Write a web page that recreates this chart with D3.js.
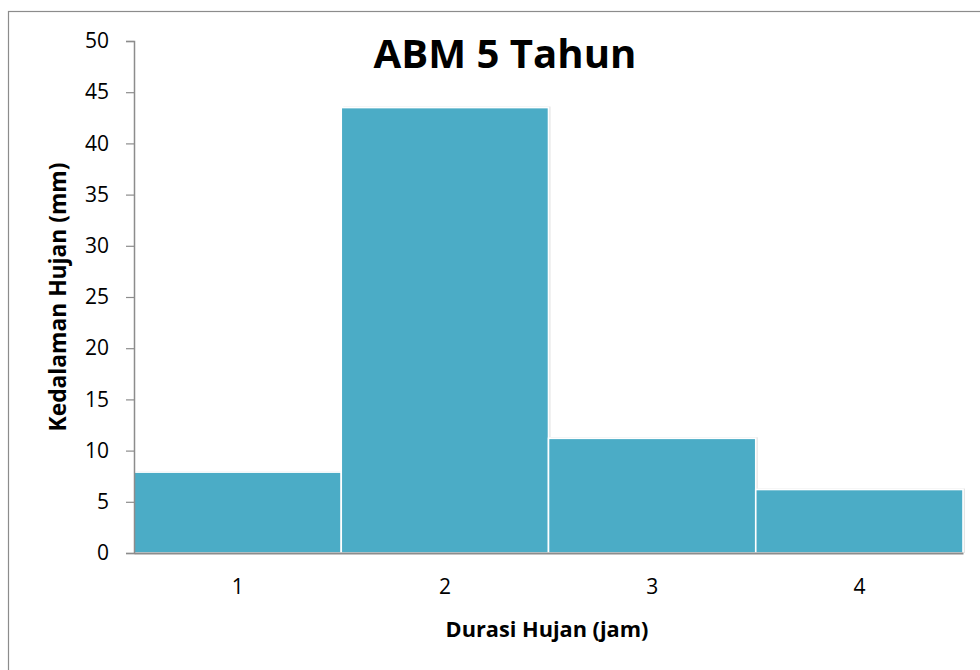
<!DOCTYPE html>
<html><head><meta charset="utf-8">
<script src="https://cdn.jsdelivr.net/npm/d3@7"></script>
<style>body{margin:0;background:#fff}svg{display:block}</style>
</head><body>
<svg id="c" width="980" height="670"></svg>
<script>
const categories = ["1", "2", "3", "4"];
const values = [7.9, 43.5, 11.2, 6.2];
const yTicks = [0, 5, 10, 15, 20, 25, 30, 35, 40, 45, 50];
const title = "ABM 5 Tahun";
const xLabel = "Durasi Hujan (jam)";
const yLabel = "Kedalaman Hujan (mm)";

const font = "'Open Sans', 'Noto Sans', sans-serif";
const svg = d3.select("#c");
const pLeft = 134, pRight = 963, pTop = 41, pBottom = 553;

// outer frame
svg.append("rect").attr("x", 8.5).attr("y", 11.5).attr("width", 1000).attr("height", 700)
  .attr("fill", "#fff").attr("stroke", "#8c8c8c").attr("stroke-width", 1.2);

const x = d3.scaleBand().domain(categories).range([pLeft, pRight]).paddingInner(0).paddingOuter(0);
const y = d3.scaleLinear().domain([0, 50]).range([pBottom, pTop]);

// bar shadows
svg.append("g").selectAll("rect").data(values).join("rect")
  .attr("x", (d, i) => x(categories[i]) + 2)
  .attr("y", d => y(d) - 1)
  .attr("width", x.bandwidth())
  .attr("height", d => pBottom - y(d) + 1)
  .attr("fill", "#e4e4e4");

// bars
svg.append("g").selectAll("rect").data(values).join("rect")
  .attr("x", (d, i) => x(categories[i]))
  .attr("y", d => y(d))
  .attr("width", x.bandwidth())
  .attr("height", d => pBottom - y(d))
  .attr("fill", "#4BACC6")
  .attr("stroke", "#fff").attr("stroke-width", 1.6);

// y axis
const yAxis = svg.append("g").attr("transform", `translate(${pLeft},0)`)
  .call(d3.axisLeft(y).tickValues(yTicks).tickSize(8).tickPadding(17).tickFormat(d3.format("d")));
yAxis.select(".domain").attr("stroke", "#8c8c8c").attr("stroke-width", 1.5);
yAxis.selectAll(".tick line").attr("stroke", "#8c8c8c").attr("stroke-width", 1.2);
yAxis.selectAll(".tick text").style("font-family", font).style("font-size", "21px").attr("fill", "#000");

// x axis
const xAxis = svg.append("g").attr("transform", `translate(0,${pBottom})`)
  .call(d3.axisBottom(x).tickSize(0).tickPadding(26));
xAxis.select(".domain").attr("stroke", "#8c8c8c").attr("stroke-width", 1.8);
xAxis.selectAll(".tick text").style("font-family", font).style("font-size", "21px").attr("fill", "#000");

function fit(sel, target) {
  const w = sel.node().getBBox().width;
  const fs = +sel.attr("font-size");
  sel.attr("font-size", fs * target / w);
}

// title
const t = svg.append("text").attr("x", 505).attr("y", 68).attr("text-anchor", "middle")
  .attr("font-family", font).attr("font-weight", "bold").attr("font-size", 36).text(title);
fit(t, 263);

const xl = svg.append("text").attr("x", 547).attr("y", 637).attr("text-anchor", "middle")
  .attr("font-family", font).attr("font-weight", "bold").attr("font-size", 18).text(xLabel);
fit(xl, 203);

const yl = svg.append("text").attr("transform", "translate(66,297) rotate(-90)").attr("text-anchor", "middle")
  .attr("font-family", font).attr("font-weight", "bold").attr("font-size", 18).text(yLabel);
fit(yl, 269);
</script>
</body></html>
